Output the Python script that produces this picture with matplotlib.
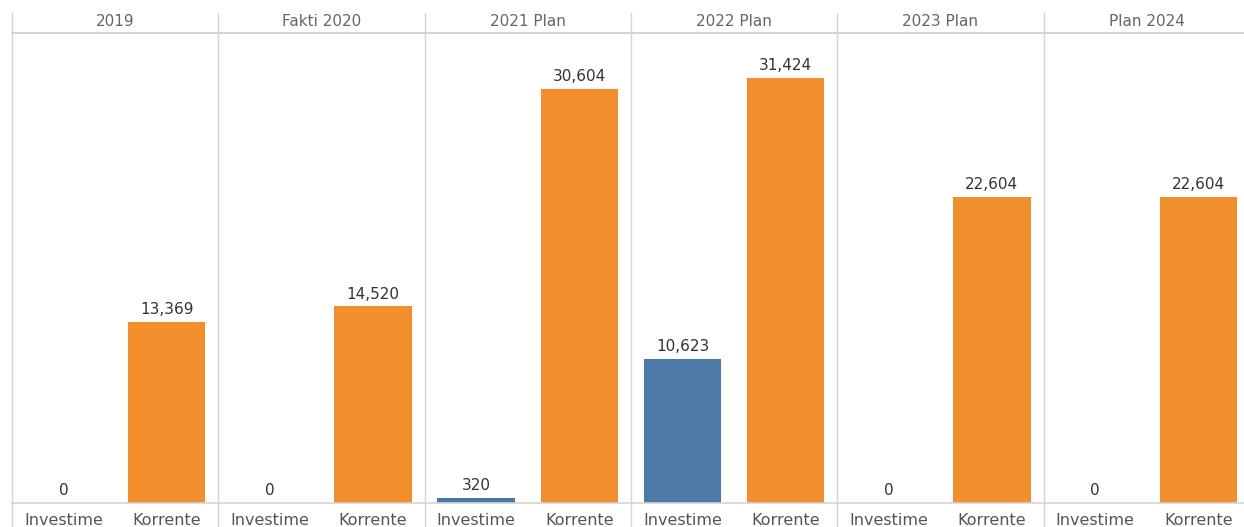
import matplotlib
matplotlib.use("Agg")
import matplotlib.pyplot as plt
from matplotlib.lines import Line2D

panels = ["2019", "Fakti 2020", "2021 Plan", "2022 Plan", "2023 Plan", "Plan 2024"]
categories = ["Investime", "Korrente"]
investime = [0, 0, 320, 10623, 0, 0]
korrente = [13369, 14520, 30604, 31424, 22604, 22604]

colors = {"Investime": "#4e79a7", "Korrente": "#f28e2b"}

W, H = 1244, 527
fig = plt.figure(figsize=(W / 100, H / 100), dpi=100)
plt.rcParams['font.family'] = ['DejaVu Sans']

left_px = 12
panel_w = 206.3
top_px = 33
base_px = 502.5
ymax = 34760

for i, name in enumerate(panels):
    x0 = left_px + i * panel_w
    ax = fig.add_axes([x0 / W, (H - base_px) / H, panel_w / W, (base_px - top_px) / H])
    vals = [investime[i], korrente[i]]
    ax.bar([0, 1], vals, width=0.75, color=[colors[c] for c in categories])
    for j, v in enumerate(vals):
        ax.annotate(f"{v:,}", xy=(j, v), xytext=(0, 3.5), textcoords="offset points",
                    ha="center", va="bottom", fontsize=11, color="#333333")
    ax.set_xlim(-0.5, 1.5)
    ax.set_ylim(0, ymax)
    ax.set_yticks([])
    ax.set_xticks([0, 1])
    ax.set_xticklabels(categories, fontsize=11.5, color="#555555")
    ax.tick_params(axis="x", length=0, pad=7.5)
    for s in ax.spines.values():
        s.set_visible(False)
    ax.patch.set_alpha(0)
    fig.text((x0 + panel_w / 2) / W, (H - 22) / H, name, ha="center", va="center",
             fontsize=11, color="#666666")

line_c = "#d4d4d4"
for i in range(len(panels)):
    x = (left_px + i * panel_w) / W
    fig.add_artist(Line2D([x, x], [0, (H - 13) / H], color=line_c, lw=1))
fig.add_artist(Line2D([left_px / W, 1], [(H - top_px) / H] * 2, color=line_c, lw=1.5))
fig.add_artist(Line2D([left_px / W, 1], [(H - base_px) / H] * 2, color=line_c, lw=1.2))

fig.savefig("out.png", dpi=100)
